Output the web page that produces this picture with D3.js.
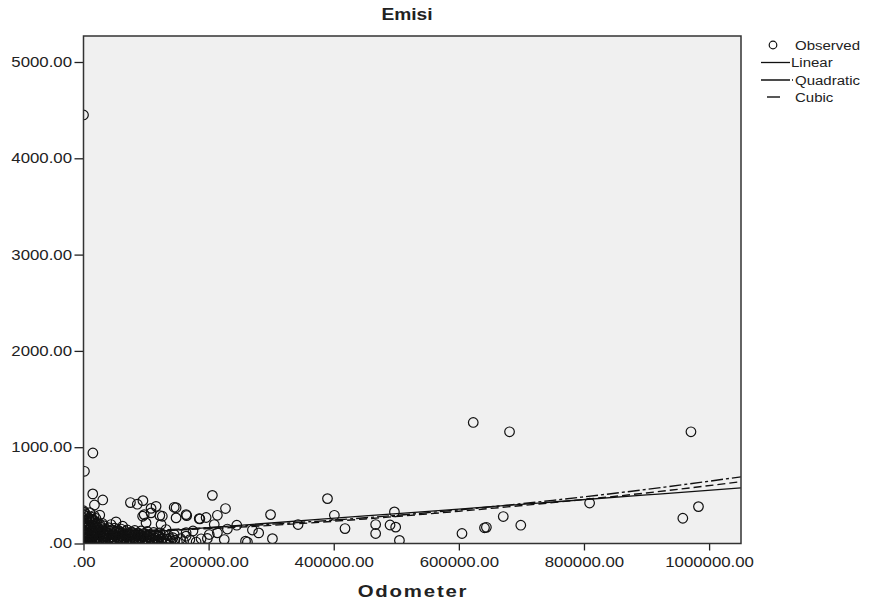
<!DOCTYPE html>
<html>
<head>
<meta charset="utf-8">
<script src="https://cdn.jsdelivr.net/npm/d3@7"></script>
<style>
  body { margin: 0; background: #fff; }
  text { font-family: "Liberation Sans", Arial, sans-serif; fill: #222; }
</style>
</head>
<body>
<div id="chart"></div>
<script>
// Emisi vs Odometer, observed points [odometer, emisi]
var observed = [
    [0, 4450], [15000, 940], [1500, 750],
    [14800, 515], [30800, 452], [17500, 400], [10000, 320], [26000, 295], [14800, 250],
    [75000, 425], [86000, 408], [95000, 445], [116000, 386], [108000, 365], [97000, 300],
    [122000, 290], [148000, 372], [165000, 290], [206000, 500], [227000, 363], [214000, 293],
    [196000, 270], [186000, 256], [262000, 15], [302000, 50], [225000, 41], [198000, 52],
    [145000, 95], [52000, 225], [164000, 112], [299000, 300], [343000, 197], [390000, 466],
    [401000, 293], [418000, 155], [467000, 197], [467000, 104], [490000, 192], [499000, 170],
    [497000, 328], [505000, 32], [605000, 104], [641000, 163], [644000, 168], [671000, 280],
    [623000, 1257], [681000, 1160], [699000, 190], [809000, 420], [971000, 1160],
    [958000, 262], [983000, 383],
    [100000, 214], [124000, 197], [44000, 197], [62600, 179], [94500, 283], [108000, 318],
    [145000, 376], [164000, 300], [185000, 259], [148000, 266], [126000, 283], [209000, 197],
    [164000, 76], [188000, 49], [201000, 93], [214000, 111], [132000, 145], [259000, 24],
    [175000, 130], [230000, 150], [245000, 190], [270000, 140], [280000, 110],
    // dense cluster near the origin
    [0, 20], [0, 60], [0, 100], [0, 140], [0, 180], [0, 220], [0, 260], [0, 300], [0, 340],
    [2000, 10], [3000, 45], [4000, 80], [3000, 120], [5000, 160], [2000, 200], [4000, 240], [6000, 280], [3000, 310],
    [7000, 5], [8000, 35], [9000, 70], [7000, 110], [10000, 150], [8000, 190], [11000, 230], [9000, 265],
    [12000, 15], [13000, 50], [14000, 90], [15000, 130], [12000, 170], [16000, 210], [14000, 250], [17000, 290],
    [18000, 25], [19000, 60], [20000, 100], [21000, 140], [18000, 180], [22000, 220], [20000, 260],
    [24000, 10], [25000, 45], [26000, 80], [27000, 120], [23000, 160], [26000, 200],
    [28000, 30], [30000, 65], [31000, 105], [29000, 145], [32000, 185],
    [34000, 10], [35000, 40], [36000, 75], [37000, 115], [35000, 150],
    [39000, 20], [40000, 55], [41000, 90], [42000, 130], [40000, 165],
    [44000, 5], [45000, 35], [46000, 70], [47000, 105], [45000, 140],
    [49000, 15], [50000, 50], [51000, 85], [52000, 120], [50000, 160],
    [54000, 25], [55000, 60], [56000, 95], [57000, 130],
    [59000, 10], [60000, 40], [61000, 75], [62000, 110], [60000, 150],
    [64000, 20], [65000, 55], [66000, 90], [67000, 125],
    [69000, 5], [70000, 35], [71000, 70], [72000, 105], [70000, 140],
    [74000, 15], [75000, 50], [76000, 85], [77000, 120],
    [79000, 25], [80000, 60], [81000, 95], [82000, 135],
    [84000, 10], [85000, 40], [86000, 75], [87000, 110],
    [89000, 20], [90000, 55], [91000, 90], [92000, 130],
    [94000, 5], [95000, 35], [96000, 70], [97000, 105],
    [99000, 15], [100000, 50], [101000, 85], [102000, 125],
    [104000, 25], [105000, 60], [106000, 95],
    [109000, 10], [110000, 40], [111000, 75], [112000, 115],
    [114000, 20], [115000, 55], [116000, 90],
    [119000, 5], [120000, 35], [121000, 70], [122000, 110],
    [125000, 20], [127000, 55], [128000, 90],
    [132000, 10], [134000, 45], [136000, 80],
    [140000, 25], [143000, 60], [150000, 15], [155000, 50],
    [1000, 30], [5000, 15], [6000, 50], [10000, 40], [15000, 70], [22000, 35], [27000, 5], [33000, 55],
    [2500, 25], [5500, 62], [6500, 97], [4500, 135], [7500, 175], [5500, 215], [9500, 250], [2500, 290], [1000, 325],
    [10500, 20], [11500, 55], [12500, 88], [13500, 125], [16500, 165], [19500, 200], [17500, 235], [12000, 275],
    [20500, 10], [22500, 60], [23500, 95], [24500, 135], [28000, 170], [30000, 210],
    [31000, 20], [32500, 85], [33500, 130], [38000, 95], [39000, 140], [43000, 25], [43500, 60],
    [48000, 35], [48500, 90], [53000, 75], [53500, 145], [58000, 60], [58500, 115], [63000, 40],
    [63500, 95], [68000, 25], [68500, 80], [73000, 35], [73500, 100], [78000, 45], [78500, 110],
    [83000, 25], [83500, 90], [88000, 40], [88500, 100], [93000, 20], [93500, 80], [98000, 35],
    [98500, 95], [103000, 10], [103500, 70], [108000, 55], [113000, 40], [118000, 20], [118500, 80],
    [124000, 45], [130000, 30], [138000, 50], [146000, 35], [160000, 20], [170000, 40], [180000, 15]
];

// fitted curves
var fitX = [0, 150000, 300000, 450000, 600000, 750000, 900000, 1051000];
var linearFit = [68, 141, 213, 286, 358, 431, 504, 577];
var quadraticFit = [114, 149, 200, 267, 349, 448, 562, 692];
var cubicFit = [105, 140, 188, 255, 335, 425, 525, 642];

var xTicks = [0, 200000, 400000, 600000, 800000, 1000000];
var yTicks = [0, 1000, 2000, 3000, 4000, 5000];

var w = 870;
var h = 601;
var plotLeft = 83.5, plotRight = 741, plotTop = 36, plotBottom = 543.5;

var svg = d3.select("#chart")
    .append("svg")
    .attr("width", w)
    .attr("height", h);

var x = d3.scaleLinear().domain([0, 1051000]).range([plotLeft, plotRight]);
var y = d3.scaleLinear().domain([0, 5270]).range([plotBottom, plotTop]);

function fmt(d) {
    return d === 0 ? ".00" : d3.format(".2f")(d);
}

svg.append("rect")
    .attr("x", plotLeft).attr("y", plotTop)
    .attr("width", plotRight - plotLeft).attr("height", plotBottom - plotTop)
    .attr("fill", "#f0f0f0");

svg.append("clipPath").attr("id", "plotClip")
    .append("rect")
    .attr("x", plotLeft).attr("y", plotTop)
    .attr("width", plotRight - plotLeft).attr("height", plotBottom - plotTop);

var plot = svg.append("g").attr("clip-path", "url(#plotClip)");

plot.selectAll("circle")
    .data(observed)
    .enter()
    .append("circle")
    .attr("cx", function (d) { return x(d[0]); })
    .attr("cy", function (d) { return y(d[1]); })
    .attr("r", 4.8)
    .attr("fill", "none")
    .attr("stroke", "#111")
    .attr("stroke-width", 1.2);

function fitLine(values) {
    return d3.line()
        .x(function (d, i) { return x(fitX[i]); })
        .y(function (d) { return y(d); })
        .curve(d3.curveMonotoneX)(values);
}

plot.append("path").attr("d", fitLine(linearFit))
    .attr("fill", "none").attr("stroke", "#111").attr("stroke-width", 1.3);
plot.append("path").attr("d", fitLine(quadraticFit))
    .attr("fill", "none").attr("stroke", "#111").attr("stroke-width", 1.4)
    .attr("stroke-dasharray", "12,3,3,3");
plot.append("path").attr("d", fitLine(cubicFit))
    .attr("fill", "none").attr("stroke", "#111").attr("stroke-width", 1.4)
    .attr("stroke-dasharray", "8,4");

// axes
var xAxis = svg.append("g")
    .attr("transform", "translate(0," + plotBottom + ")")
    .call(d3.axisBottom(x).tickValues(xTicks).tickFormat(fmt).tickSize(7).tickSizeOuter(0).tickPadding(7));
xAxis.select(".domain").remove();
xAxis.selectAll("line").attr("stroke", "#222").attr("stroke-width", 1.3);
xAxis.selectAll("text")
    .attr("font-size", "14px")
    .attr("font-family", "Liberation Sans, Arial, sans-serif")
    .attr("fill", "#222")
    .attr("transform", "scale(1.2,1)");

var yAxis = svg.append("g")
    .attr("transform", "translate(" + plotLeft + ",0)")
    .call(d3.axisLeft(y).tickValues(yTicks).tickFormat(fmt).tickSize(9).tickSizeOuter(0).tickPadding(0.6));
yAxis.select(".domain").remove();
yAxis.selectAll("line").attr("stroke", "#222").attr("stroke-width", 1.3);
yAxis.selectAll("text")
    .attr("font-size", "14px")
    .attr("font-family", "Liberation Sans, Arial, sans-serif")
    .attr("fill", "#222")
    .attr("transform", "scale(1.2,1)");

svg.append("rect")
    .attr("x", plotLeft).attr("y", plotTop)
    .attr("width", plotRight - plotLeft).attr("height", plotBottom - plotTop)
    .attr("fill", "none")
    .attr("stroke", "#333")
    .attr("stroke-width", 1.5);

// title and axis label
svg.append("text")
    .attr("transform", "translate(407,20) scale(1.2,1)")
    .attr("text-anchor", "middle")
    .attr("font-size", "16px")
    .attr("font-weight", "bold")
    .attr("fill", "#111")
    .text("Emisi");

svg.append("text")
    .attr("transform", "translate(413,597) scale(1.2,1)")
    .attr("text-anchor", "middle")
    .attr("font-size", "17px")
    .attr("font-weight", "bold")
    .attr("letter-spacing", "1.5px")
    .attr("fill", "#111")
    .text("Odometer");

// legend
var legend = svg.append("g");
legend.append("circle")
    .attr("cx", 773).attr("cy", 45).attr("r", 3.8)
    .attr("fill", "none").attr("stroke", "#111").attr("stroke-width", 1.2);
legend.append("line")
    .attr("x1", 761).attr("x2", 790).attr("y1", 62.5).attr("y2", 62.5)
    .attr("stroke", "#111").attr("stroke-width", 1.3);
legend.append("line")
    .attr("x1", 761).attr("x2", 795).attr("y1", 80).attr("y2", 80)
    .attr("stroke", "#111").attr("stroke-width", 1.3)
    .attr("stroke-dasharray", "29,2,1,10");
legend.append("line")
    .attr("x1", 767).attr("x2", 780).attr("y1", 97).attr("y2", 97)
    .attr("stroke", "#111").attr("stroke-width", 1.4);

var legendLabels = [
    { label: "Observed", x: 795, y: 49.5 },
    { label: "Linear", x: 791, y: 67 },
    { label: "Quadratic", x: 795, y: 84.5 },
    { label: "Cubic", x: 795, y: 101.5 }
];
legend.selectAll("text.leg")
    .data(legendLabels)
    .enter()
    .append("text")
    .attr("class", "leg")
    .attr("transform", function (d) { return "translate(" + d.x + "," + d.y + ") scale(1.25,1)"; })
    .attr("font-size", "12px")
    .attr("fill", "#222")
    .text(function (d) { return d.label; });
</script>
</body>
</html>
